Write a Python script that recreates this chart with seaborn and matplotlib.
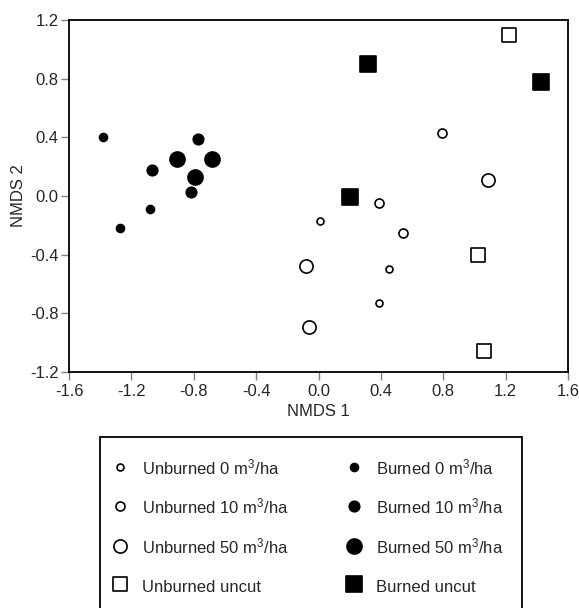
import matplotlib
matplotlib.use('Agg')
import matplotlib.pyplot as plt
import seaborn as sns
from matplotlib.patches import Rectangle

sns.set_style('ticks')
plt.rcParams['font.family'] = ['Liberation Sans', 'DejaVu Sans']
plt.rcParams['mathtext.default'] = 'regular'

# NMDS scores
u0_x = [0.01, 0.45, 0.39]
u0_y = [-0.17, -0.50, -0.73]
u10_x = [0.39, 0.54, 0.79]
u10_y = [-0.05, -0.25, 0.43]
u50_x = [-0.08, -0.06, 1.09]
u50_y = [-0.48, -0.89, 0.11]
uc_x = [1.22, 1.02, 1.06]
uc_y = [1.10, -0.40, -1.06]
b0_x = [-1.38, -1.27, -1.08]
b0_y = [0.40, -0.22, -0.09]
b10_x = [-1.07, -0.77, -0.82]
b10_y = [0.175, 0.39, 0.03]
b50_x = [-0.91, -0.68, -0.79]
b50_y = [0.25, 0.25, 0.13]
bc_x = [0.32, 1.43, 0.20]
bc_y = [0.90, 0.775, -0.01]

labels = ['Unburned 0 m$^3$/ha', 'Unburned 10 m$^3$/ha', 'Unburned 50 m$^3$/ha', 'Unburned uncut',
          'Burned 0 m$^3$/ha', 'Burned 10 m$^3$/ha', 'Burned 50 m$^3$/ha', 'Burned uncut']
xs = [u0_x, u10_x, u50_x, uc_x, b0_x, b10_x, b50_x, bc_x]
ys = [u0_y, u10_y, u50_y, uc_y, b0_y, b10_y, b50_y, bc_y]
markers = ['o', 'o', 'o', 's', 'o', 'o', 'o', 's']
sizes = [25, 42, 90, 95, 33, 57, 117, 135]
fills = ['white'] * 4 + ['black'] * 4

fig = plt.figure(figsize=(5.79, 6.08), dpi=100)
ax = fig.add_axes([69/579, 1-372/608, 499/579, 352/608])

for x, y, m, s, fc, lab in zip(xs, ys, markers, sizes, fills, labels):
    sns.scatterplot(x=x, y=y, marker=m, s=s, color=fc, edgecolor='black',
                    linewidth=1.2, label=lab, ax=ax, legend=False)

ax.set_xlim(-1.6, 1.6)
ax.set_ylim(-1.2, 1.2)
ax.set_xticks([-1.6, -1.2, -0.8, -0.4, 0.0, 0.4, 0.8, 1.2, 1.6])
ax.set_yticks([-1.2, -0.8, -0.4, 0.0, 0.4, 0.8, 1.2])
ax.set_xticklabels(['%.1f' % v for v in ax.get_xticks()])
ax.set_yticklabels(['%.1f' % v for v in ax.get_yticks()])
ax.tick_params(direction='out', length=6, width=1, color='0.5', labelsize=12, pad=3)
ax.tick_params(axis='y', pad=1.5)
for sp in ax.spines.values():
    sp.set_linewidth(1.3)
    sp.set_color('black')
ax.set_xlabel('NMDS 1', fontsize=12, labelpad=3)
ax.set_ylabel('NMDS 2', fontsize=12, labelpad=3)

handles = ax.collections
leg = fig.legend(handles, labels, ncol=2, loc='upper left',
                 bbox_to_anchor=(107/579, 1-449/608), frameon=False,
                 fontsize=12, borderpad=0, handlelength=0.6, handleheight=1.5,
                 handletextpad=1.02, labelspacing=1.08, columnspacing=3.6,
                 scatterpoints=1)

fig.patches.append(Rectangle((100/579, -0.05), 422/579, 0.05 + (608-437)/608,
                             transform=fig.transFigure, fill=False,
                             edgecolor='black', linewidth=1.3))

fig.savefig('out.png', dpi=100)
